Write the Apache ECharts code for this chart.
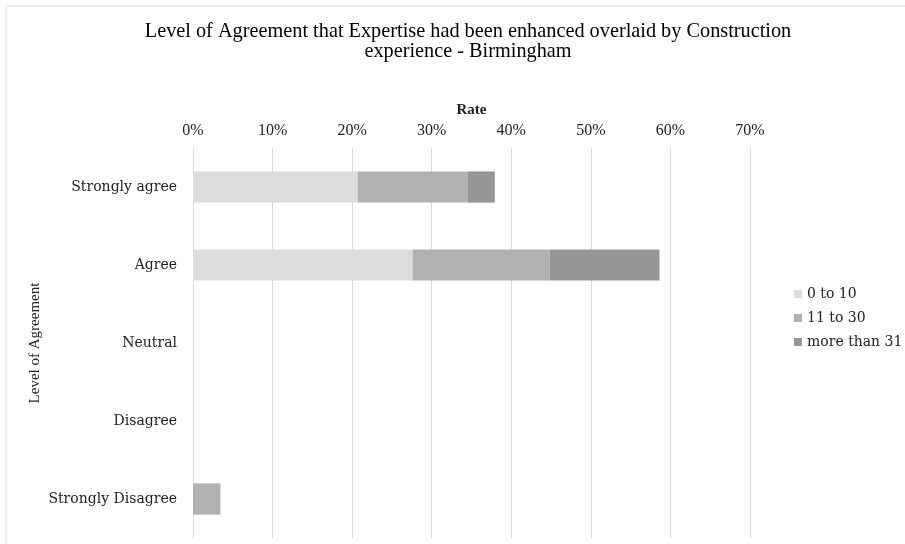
<!DOCTYPE html>
<html>
<head>
<meta charset="utf-8">
<script src="https://cdn.jsdelivr.net/npm/echarts@6/dist/echarts.min.js"></script>
<style>
  html, body { margin: 0; padding: 0; background: #fff; }
  #chart { width: 905px; height: 544px; }
</style>
</head>
<body>
<div id="chart"></div>
<script>
// Agreement levels (top to bottom)
const categories = ['Strongly agree', 'Agree', 'Neutral', 'Disagree', 'Strongly Disagree'];
// Years of construction experience groups
const seriesNames = ['0 to 10', '11 to 30', 'more than 31'];
// Share of respondents (%)
const exp0to10 = [20.69, 27.59, 0, 0, 0];
const exp11to30 = [13.79, 17.24, 0, 0, 3.45];
const expOver31 = [3.45, 13.79, 0, 0, 0];
const seriesColors = ['#dcdcdc', '#b1b1b1', '#969696'];

const serif = 'Liberation Serif';
const wideSerif = 'DejaVu Serif';
const chart = echarts.init(document.getElementById('chart'));

const seriesData = [exp0to10, exp11to30, expOver31];
chart.setOption({
  animation: false,
  backgroundColor: '#fff',
  title: {
    text: 'Level of Agreement that Expertise had been enhanced overlaid by Construction\nexperience - Birmingham',
    left: 463,
    textAlign: 'center',
    top: 17,
    textStyle: { fontFamily: serif, fontSize: 20.3, fontWeight: 'normal', color: '#000', lineHeight: 20 }
  },
  legend: {
    orient: 'vertical',
    left: 789,
    top: 282,
    itemWidth: 8,
    itemHeight: 8,
    itemGap: 10,
    icon: 'rect',
    textStyle: { fontFamily: wideSerif, fontSize: 14, color: '#222' },
    data: seriesNames
  },
  grid: { left: 193, right: 155, top: 148, bottom: 6, containLabel: false },
  xAxis: {
    type: 'value',
    position: 'top',
    min: 0, max: 70, interval: 10,
    name: 'Rate',
    nameLocation: 'middle',
    nameGap: 30,
    nameTextStyle: { fontFamily: serif, fontSize: 15, fontWeight: 'bold', color: '#222' },
    axisLine: { show: false },
    axisTick: { show: false },
    axisLabel: { formatter: '{value}%', fontFamily: serif, fontSize: 16, color: '#222', margin: 9 },
    splitLine: { lineStyle: { color: '#d9d9d9', width: 1 } }
  },
  yAxis: {
    type: 'category',
    inverse: true,
    data: categories,
    name: 'Level of Agreement',
    nameLocation: 'middle',
    nameGap: 150,
    nameMoveOverlap: false,
    nameRotate: 90,
    nameTextStyle: { fontFamily: serif, fontSize: 15, color: '#222' },
    axisLine: { show: true, lineStyle: { color: '#d9d9d9' } },
    axisTick: { show: false },
    axisLabel: { fontFamily: wideSerif, fontSize: 14, color: '#222', margin: 16 }
  },
  series: seriesNames.map((name, i) => ({
    name,
    type: 'bar',
    stack: 'total',
    barWidth: '40%',
    data: seriesData[i].map(v => (v === 0 ? null : v)),
    itemStyle: { color: seriesColors[i] }
  })),
  graphic: [{
    type: 'rect',
    shape: { x: 6, y: 6, width: 920, height: 560 },
    style: { fill: 'none', stroke: '#d9d9d9', lineWidth: 1 },
    silent: true
  }]
});
</script>
</body>
</html>
